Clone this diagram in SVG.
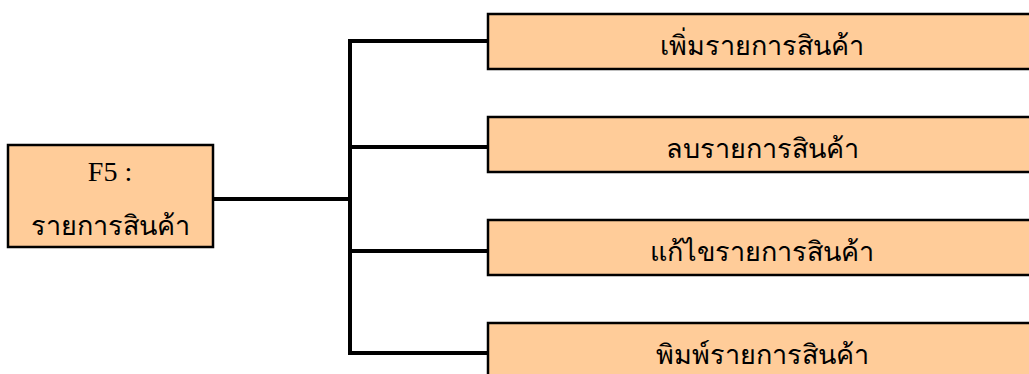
<svg xmlns="http://www.w3.org/2000/svg" width="1029" height="374" viewBox="0 0 1029 374">
<style>
.box{fill:#FFCC99;stroke:#000;stroke-width:2.5}
.lbl{font-family:"Liberation Serif","Noto Sans CJK SC",serif;font-size:27px;fill:#000;text-anchor:middle}
.f5{font-size:28px}
.con{fill:none;stroke:#000;stroke-width:4;stroke-linecap:square}
</style>
<rect width="1029" height="374" fill="#fff"/>
<g id="connectors">
<path class="con" d="M214 199H350M350 41V353M350 41H488M350 147H488M350 251H488M350 353H488"/>
</g>
<g id="root">
<rect class="box" x="8" y="145" width="205" height="102"/>
<text class="lbl f5" x="110" y="181">F5 :</text>
<text class="lbl" x="110" y="235">รายการสินค้า</text>
</g>
<g id="n1">
<rect class="box" x="488" y="14" width="560" height="55"/>
<text class="lbl" x="762" y="55">เพิ่มรายการสินค้า</text>
</g>
<g id="n2">
<rect class="box" x="488" y="117" width="560" height="55"/>
<text class="lbl" x="762" y="158">ลบรายการสินค้า</text>
</g>
<g id="n3">
<rect class="box" x="488" y="220" width="560" height="55"/>
<text class="lbl" x="762" y="261">แก้ไขรายการสินค้า</text>
</g>
<g id="n4">
<rect class="box" x="488" y="323" width="560" height="70"/>
<text class="lbl" x="762" y="364">พิมพ์รายการสินค้า</text>
</g>
</svg>
